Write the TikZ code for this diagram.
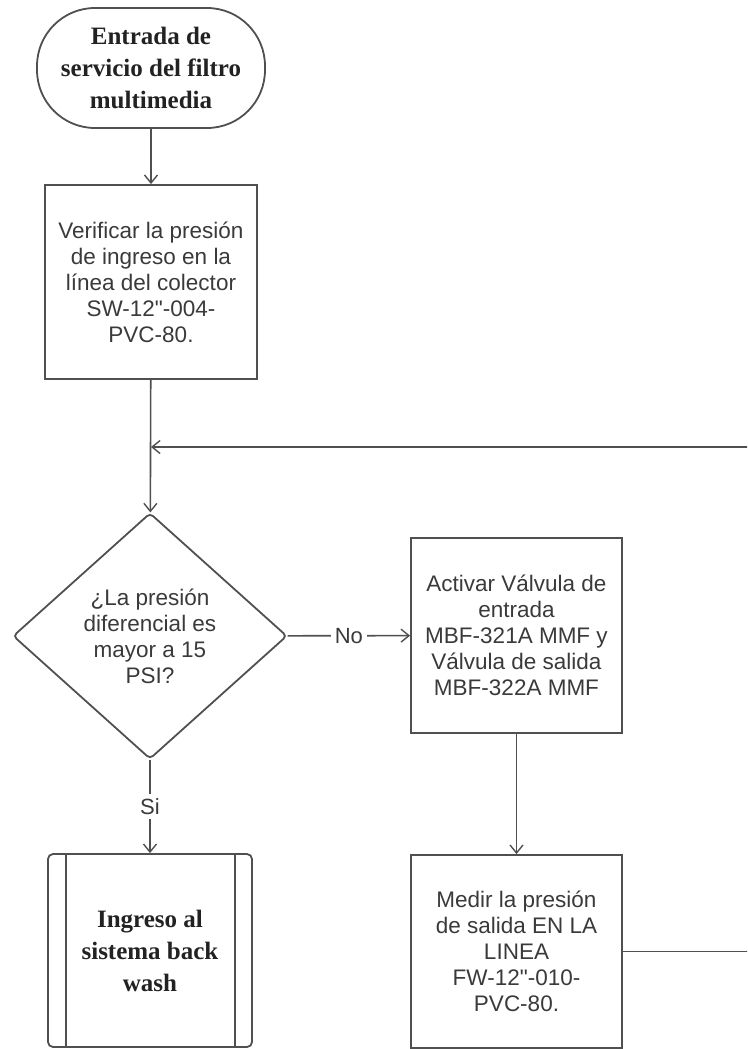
\documentclass[tikz,border=0pt]{standalone}
\usepackage{fontspec}
\setmainfont{Liberation Sans}[Ligatures=TeXOff]
\newfontfamily\headfont{Liberation Serif}
\usetikzlibrary{shapes.geometric,arrows.meta}
\definecolor{ln}{HTML}{505050}
\definecolor{tx}{HTML}{3A3A3A}
\definecolor{hd}{HTML}{222222}
\begin{document}
\begin{tikzpicture}[x=1pt,y=-1pt,
  box/.style={draw=ln, line width=1.8pt, rectangle, inner sep=0pt, align=center, text=tx, font=\fontsize{22.5}{26}\selectfont},
  headtxt/.style={font=\headfont\bfseries\fontsize{25}{32}\selectfont, text=hd},
  flow/.style={draw=ln, line width=1.6pt, -{Straight Barb[length=8pt,width=13pt,line width=1.4pt]}},
  lbl/.style={fill=white, text=tx, font=\fontsize{22}{26}\selectfont, inner sep=4pt}
]
\useasboundingbox (0,0) rectangle (747,1049);
\clip (0,0) rectangle (747,1049);

\node[box, headtxt, minimum width=228pt, minimum height=120pt, rounded corners=58pt] (start) at (151,68) {Entrada de\\servicio del filtro\\multimedia};
\node[box, minimum width=212pt, minimum height=194pt] (r1) at (151,282) {Verificar la presión\\de ingreso en la\\línea del colector\\SW-12"-004-\\PVC-80.};
\node[draw=ln, line width=1.8pt, diamond, aspect=1.1, inner sep=0pt, rounded corners=4pt, minimum width=274pt, minimum height=246pt, align=center, text=tx, font=\fontsize{22.5}{26}\selectfont] (dec) at (150,636) {¿La presión\\diferencial es\\mayor a 15\\PSI?};
\node[box, minimum width=211pt, minimum height=195pt] (r2) at (516.5,635.5) {Activar Válvula de\\entrada\\MBF-321A MMF y\\Válvula de salida\\MBF-322A MMF};
\node[box, minimum width=211pt, minimum height=193pt] (r3) at (516.5,951.5) {Medir la presión\\de salida EN LA\\LINEA\\FW-12"-010-\\PVC-80.};
\node[box, headtxt, minimum width=204pt, minimum height=193pt, rounded corners=5pt] (pre) at (150,950.5) {Ingreso al\\sistema back\\wash};
\draw[ln, line width=1.8pt] ([xshift=19pt]pre.north west) -- ([xshift=19pt]pre.south west);
\draw[ln, line width=1.8pt] ([xshift=-18pt]pre.north east) -- ([xshift=-18pt]pre.south east);

\coordinate (loopR) at (760,447);
\draw[flow] (start) -- (r1);
\draw[flow] (r1) -- (dec);
\draw[flow] (dec) -- node[lbl]{No} (r2);
\draw[flow] (dec) -- node[lbl]{Si} (pre);
\draw[flow] (r2) -- (r3);
\draw[flow] (r3.east) -- (r3.east -| loopR) -- (loopR) -- (r1.south |- loopR);
\end{tikzpicture}
\end{document}
